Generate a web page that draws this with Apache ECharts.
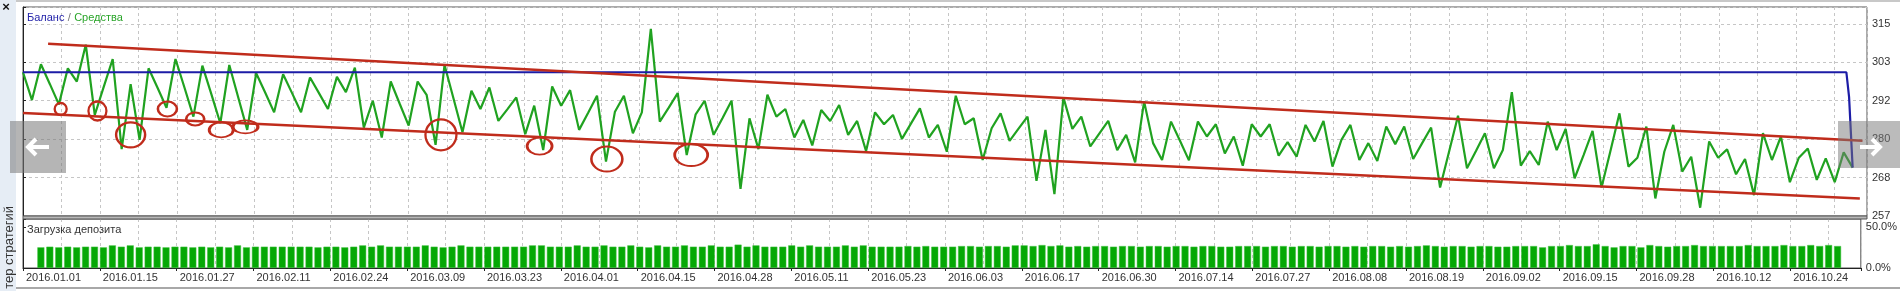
<!DOCTYPE html>
<html>
<head>
<meta charset="utf-8">
<script src="https://cdn.jsdelivr.net/npm/echarts@6.0.0/dist/echarts.min.js"></script>
<style>
html, body { margin: 0; padding: 0; background: #fff; }
#chart { width: 1900px; height: 291px; }
</style>
</head>
<body>
<div id="chart"></div>
<script>
// tick labels
var dateLabels = ['2016.01.01', '2016.01.15', '2016.01.27', '2016.02.11', '2016.02.24', '2016.03.09',
    '2016.03.23', '2016.04.01', '2016.04.15', '2016.04.28', '2016.05.11', '2016.05.23', '2016.06.03',
    '2016.06.17', '2016.06.30', '2016.07.14', '2016.07.27', '2016.08.08', '2016.08.19', '2016.09.02',
    '2016.09.15', '2016.09.28', '2016.10.12', '2016.10.24'];
var yTickLabels = ['257', '268', '280', '292', '303', '315'];

// equity (Средства), one value per trade
var equity = [
    300.4, 292.0, 302.8, 296.8, 290.7, 301.6, 297.6, 308.7, 287.5, 296.0,
    304.4, 277.2, 296.8, 280.0, 301.6, 295.7, 289.7, 304.4, 295.8, 287.0,
    302.4, 293.8, 285.0, 302.6, 292.8, 283.0, 300.1, 294.3, 288.3, 299.8,
    294.1, 288.3, 298.8, 294.1, 289.3, 299.0, 294.4, 301.8, 283.7, 291.8,
    280.7, 297.6, 290.9, 284.3, 297.6, 293.6, 278.5, 302.6, 292.5, 282.3,
    294.8, 289.3, 295.8,
    285.7, 289.2, 292.8, 281.7, 290.3, 276.9, 296.1, 290.3, 295.0, 283.0,
    288.1, 293.3, 273.4, 288.5, 293.3, 282.0, 288.3, 313.5, 285.5, 289.7,
    294.1, 275.4, 287.7, 291.8, 281.5, 286.6, 291.8, 265.2, 286.5, 277.2,
    293.6, 287.0, 289.3, 280.7, 286.0, 278.3, 289.0, 285.7, 290.5, 281.5,
    285.7, 276.6, 288.3, 284.7, 287.5, 280.3, 284.9, 289.5, 280.7, 284.5,
    276.4,
    293.3, 284.7, 286.5, 273.9, 283.5, 288.0, 279.7, 283.4, 287.0, 267.6,
    283.0, 263.6, 292.8, 283.3, 287.0, 278.0, 281.9, 285.7, 276.9, 281.5,
    273.2, 291.6, 279.0, 273.9, 285.5, 279.7, 273.8, 285.5, 281.0, 284.7,
    275.9, 281.0, 272.2, 284.7, 281.0, 284.7, 275.2, 279.3, 274.9, 284.5,
    279.5, 285.7, 271.9, 280.0, 284.5, 273.9, 279.0, 273.6, 284.0, 278.7,
    284.0, 274.2,
    279.0, 283.7, 265.6, 276.4, 287.3, 271.4, 276.6, 282.0, 271.4, 276.9,
    294.4, 272.2, 276.6, 272.4, 285.5, 276.9, 283.3, 268.4, 275.4, 282.7,
    265.6, 276.7, 288.0, 271.9, 274.6, 284.0, 262.3, 276.4, 284.5, 270.4,
    274.9, 259.5, 279.5, 274.6, 277.1, 269.6, 274.2, 263.3, 282.0, 273.9,
    281.0, 267.2, 274.6, 277.4, 267.9, 274.4, 267.2, 276.2, 271.6
];

// balance (Баланс): flat, then the final close
var balanceTrade = [0, 203.3, 203.6, 204];
var balanceValue = [300.4, 300.4, 293.0, 271.6];

// deposit load, %, starting at trade 2
var loadFirstTrade = 2;
var loadValues = [
    25.2, 26, 25.2, 26, 25.2, 26, 26, 25.2, 27.6, 26,
    27.6, 25.2, 26, 26, 25.2, 26, 26, 25.2, 26, 25.2,
    26, 25.2, 27.6, 25.2, 26, 26, 26, 26, 26, 26,
    26, 25.2, 26, 26, 25.2, 26, 27.6, 26, 27.6, 26,
    26, 26, 26, 27.6, 26, 25.2, 26, 27.6, 26, 26,
    26, 26, 26, 26, 26, 27.6, 27.6, 26, 26, 26,
    27.6, 26, 26, 27.6, 26, 26, 27.6, 26, 25.2, 27.6,
    26, 26, 27.6, 26, 26, 27.6, 26, 26, 28.5, 26,
    27.6, 26, 26, 26, 27.6, 26, 27.6, 26, 26, 26,
    27.6, 26, 27.6, 26, 26,
    26, 26, 26.8, 26, 26.8, 26, 26, 26, 26.8, 26.8,
    26, 26.8, 26.8, 26, 27.6, 27.6, 26.8, 28, 26.8, 27.6,
    26, 26.8, 26, 26.8, 26.8, 26, 26.8, 26.8, 26, 26.8,
    26.8, 26, 26.8, 26.8, 26, 26.8, 26.8, 26, 26, 26.8,
    26.8, 26.8, 26, 26.8, 26.8, 26, 26.8, 26.8, 26, 26.8,
    26.8, 26, 26.8, 26, 26.8, 26.8, 26, 26.8, 26, 26.8,
    27.6, 26.8, 26, 26.8, 26.8, 26, 26.8, 26.8, 26,
    26, 26.8, 26.8, 26.8, 25.2, 26.8, 26.8, 28, 26.8, 26.8,
    28.9, 26.8, 25.2, 26.8, 26.8, 25.2, 28, 26.8, 26, 26.8,
    26.8, 28, 26.8, 26.8, 26.8, 26.8, 26.8, 28, 26.8, 26.8,
    26.8, 28, 26.8, 26.8, 28, 26.8, 28, 26.8
];

// hand drawn marks (trade, value)
var upperTrendTrade = [2.8, 205.1];
var upperTrendValue = [309.0, 279.7];
var lowerTrendTrade = [0, 204.8];
var lowerTrendValue = [288.1, 262.3];
var circleTrade = [4.2, 8.3, 12.0, 16.1, 19.2, 22.1, 24.8, 46.6, 57.6, 65.1, 74.5];
var circleValue = [289.3, 288.7, 281.5, 289.3, 286.3, 283.0, 283.9, 281.5, 278.1, 274.2, 275.4];
var circleSizes = [[12, 12], [18, 19], [29, 25], [19, 15], [18, 13], [24, 15], [25, 13], [31, 31], [25, 17], [31, 25], [33, 22]];

var FONT = 'Liberation Sans';
var RED = '#c02c1c';
var tradeMax = 205.6;
var dateMax = 23.92;
var yMin = 257, yMax = 320.1, yStep = 11.6;
var dash = { color: '#c6c6c6', type: [3, 3], width: 1 };

function pairs(xs, ys) {
    var out = [];
    for (var i = 0; i < xs.length; i++) out.push([xs[i], ys[i]]);
    return out;
}
function onTick(v) {
    return Math.abs(v - Math.round(v)) < 1e-6;
}

var chart = echarts.init(document.getElementById('chart'));
var option = {
    animation: false,
    backgroundColor: '#fff',
    grid: [
        { left: 23, right: 33, top: 7, height: 209, show: true, borderColor: '#555', borderWidth: 1 },
        { left: 23, right: 33, top: 219, height: 49, show: true, borderColor: '#555', borderWidth: 1 }
    ],
    xAxis: [
        { type: 'value', gridIndex: 0, min: 0, max: tradeMax, show: false },
        {
            type: 'value', gridIndex: 0, min: 0, max: dateMax, interval: 1,
            axisLine: { show: false }, axisTick: { show: false }, axisLabel: { show: false },
            splitLine: { show: true, lineStyle: dash },
            minorTick: { show: false, splitNumber: 2 },
            minorSplitLine: { show: true, lineStyle: dash }
        },
        { type: 'value', gridIndex: 1, min: 0, max: tradeMax, show: false },
        {
            type: 'value', gridIndex: 1, min: 0, max: dateMax, interval: 1, position: 'bottom',
            axisLine: { show: true, lineStyle: { color: '#222', width: 1 } },
            axisTick: { show: true, length: 3, lineStyle: { color: '#222' } },
            axisLabel: {
                show: true, margin: 4, align: 'left', padding: [0, 0, 0, 3],
                fontFamily: FONT, fontSize: 11, color: '#333',
                formatter: function (v) { return onTick(v) ? (dateLabels[Math.round(v)] || '') : ''; }
            },
            splitLine: { show: true, lineStyle: dash },
            minorTick: { show: false, splitNumber: 2 },
            minorSplitLine: { show: true, lineStyle: dash }
        }
    ],
    yAxis: [
        { type: 'value', gridIndex: 0, min: yMin, max: yMax, show: false },
        {
            type: 'value', gridIndex: 0, position: 'right', min: 0, max: (yMax - yMin) / yStep, interval: 1,
            axisLine: { show: true, lineStyle: { color: '#222' } },
            axisTick: { show: true, length: 3, lineStyle: { color: '#222' } },
            axisLabel: {
                margin: 5, fontFamily: FONT, fontSize: 11, color: '#333',
                formatter: function (v) { return onTick(v) ? (yTickLabels[Math.round(v)] || '') : ''; }
            },
            splitLine: { show: true, lineStyle: dash }
        },
        {
            type: 'value', gridIndex: 1, position: 'right', min: 0, max: 59.8, interval: 50,
            axisLine: { show: true, lineStyle: { color: '#222' } },
            axisTick: { show: true, length: 3, lineStyle: { color: '#222' } },
            axisLabel: {
                margin: 5, fontFamily: FONT, fontSize: 11, color: '#333',
                formatter: function (v) { return (v === 0 || v === 50) ? v.toFixed(1) + '%' : ''; }
            },
            splitLine: { show: false }
        }
    ],
    series: [
        {
            name: 'Средства', type: 'line', xAxisIndex: 0, yAxisIndex: 0,
            data: equity.map(function (v, i) { return [i, v]; }),
            showSymbol: false, symbol: 'none',
            lineStyle: { color: '#20a220', width: 2.2 }, z: 3
        },
        {
            name: 'Баланс', type: 'line', xAxisIndex: 0, yAxisIndex: 0,
            data: pairs(balanceTrade, balanceValue),
            showSymbol: false, symbol: 'none',
            lineStyle: { color: '#1c1ca6', width: 2.2 }, z: 4
        },
        {
            name: 'Загрузка депозита', type: 'bar', xAxisIndex: 2, yAxisIndex: 2,
            data: loadValues.map(function (v, k) { return [k + loadFirstTrade, v]; }),
            barWidth: 7, itemStyle: { color: '#05a805', borderColor: '#40c040', borderWidth: 0.5 }
        },
        {
            type: 'line', xAxisIndex: 0, yAxisIndex: 0, data: pairs(upperTrendTrade, upperTrendValue),
            symbol: 'none', lineStyle: { color: RED, width: 2.5 }, z: 6
        },
        {
            type: 'line', xAxisIndex: 0, yAxisIndex: 0, data: pairs(lowerTrendTrade, lowerTrendValue),
            symbol: 'none', lineStyle: { color: RED, width: 2.5 }, z: 6
        },
        {
            type: 'scatter', xAxisIndex: 0, yAxisIndex: 0, data: pairs(circleTrade, circleValue),
            symbol: 'circle',
            symbolSize: function (val, params) { return circleSizes[params.dataIndex]; },
            itemStyle: { color: 'rgba(0,0,0,0)', borderColor: RED, borderWidth: 2.3, opacity: 1 },
            z: 7
        }
    ],
    graphic: [
        { type: 'rect', z: -1, shape: { x: 0, y: 0, width: 16, height: 291 }, style: { fill: '#e6edf5' } },
        { type: 'rect', z: -1, shape: { x: 16, y: 0, width: 1884, height: 2 }, style: { fill: '#c8c8c8' } },
        { type: 'text', x: 6, y: 7, style: { text: '×', font: 'bold 13px ' + FONT, fill: '#111', textAlign: 'center', textVerticalAlign: 'middle' } },
        { type: 'text', x: 9, y: 206, rotation: Math.PI / 2, style: { text: 'тер стратегий', font: '13px ' + FONT, fill: '#333', textAlign: 'right', textVerticalAlign: 'middle' } },
        { type: 'rect', z: 5, shape: { x: 23, y: 216, width: 1844, height: 3 }, style: { fill: '#b8b8b8', stroke: '#555', lineWidth: 1 } },
        { type: 'rect', z: -1, shape: { x: 16, y: 287, width: 1884, height: 2 }, style: { fill: '#a8a8a8' } },
        {
            type: 'text', x: 27, y: 18, z: 10,
            style: {
                text: '{b|Баланс} {s|/} {g|Средства}',
                textVerticalAlign: 'middle',
                rich: {
                    b: { fill: '#2424aa', font: '11px ' + FONT },
                    s: { fill: '#777', font: '11px ' + FONT },
                    g: { fill: '#2aa52a', font: '11px ' + FONT }
                }
            }
        },
        { type: 'text', x: 27, y: 230, z: 10, style: { text: 'Загрузка депозита', font: '11px ' + FONT, fill: '#333', textVerticalAlign: 'middle' } },
        // slider arrows overlaying the screenshot
        { type: 'rect', z: 20, shape: { x: 10, y: 121, width: 56, height: 52 }, style: { fill: 'rgba(120,120,120,0.55)' } },
        { type: 'polyline', z: 21, shape: { points: [[36, 139], [28, 147], [36, 155]] }, style: { stroke: '#fff', lineWidth: 4, fill: null } },
        { type: 'line', z: 21, shape: { x1: 28, y1: 147, x2: 49, y2: 147 }, style: { stroke: '#fff', lineWidth: 4 } },
        { type: 'rect', z: 20, shape: { x: 1838, y: 121, width: 62, height: 47 }, style: { fill: 'rgba(120,120,120,0.5)' } },
        { type: 'polyline', z: 21, shape: { points: [[1872, 139], [1880, 147], [1872, 155]] }, style: { stroke: '#fff', lineWidth: 4, fill: null } },
        { type: 'line', z: 21, shape: { x1: 1860, y1: 147, x2: 1880, y2: 147 }, style: { stroke: '#fff', lineWidth: 4 } }
    ]
};
chart.setOption(option);
</script>
</body>
</html>
